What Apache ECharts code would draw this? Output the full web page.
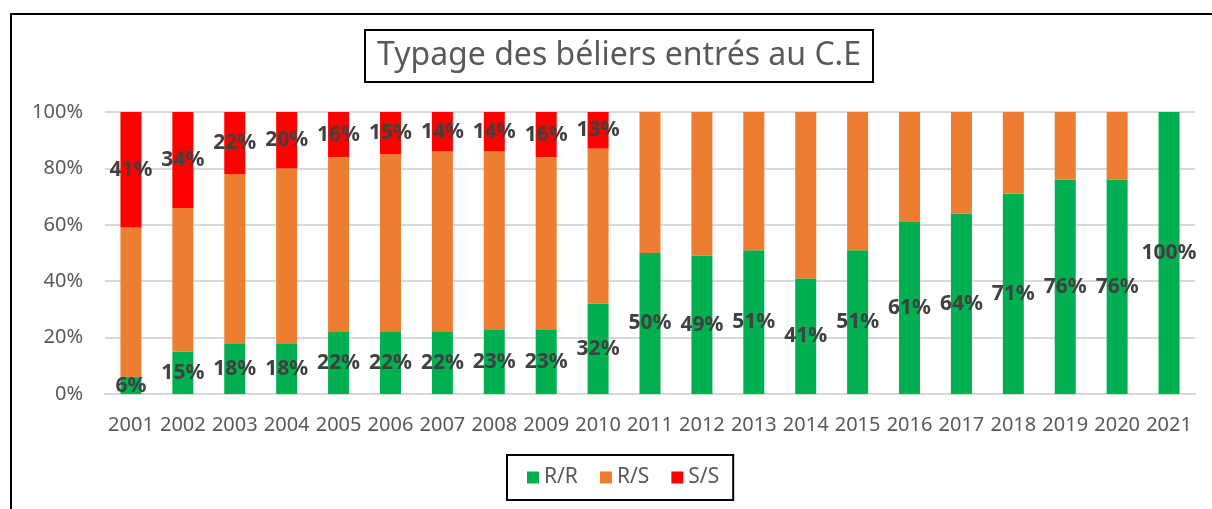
<!DOCTYPE html>
<html>
<head>
<meta charset="utf-8">
<script src="https://cdn.jsdelivr.net/npm/echarts@6/dist/echarts.min.js"></script>
<style>
  html, body { margin: 0; padding: 0; background: #fff; }
  #chart { width: 1212px; height: 509px; }
</style>
</head>
<body>
<div id="chart"></div>
<script>
  // années
  var years = ['2001', '2002', '2003', '2004', '2005', '2006', '2007', '2008', '2009', '2010', '2011',
    '2012', '2013', '2014', '2015', '2016', '2017', '2018', '2019', '2020', '2021']
  // pourcentages par génotype
  var rr = [6, 15, 18, 18, 22, 22, 22, 23, 23, 32, 50, 49, 51, 41, 51, 61, 64, 71, 76, 76, 100]
  var rs = [53, 51, 60, 62, 62, 63, 64, 63, 61, 55, 50, 51, 49, 59, 49, 39, 36, 29, 24, 24, 0]
  var ss = [41, 34, 22, 20, 16, 15, 14, 14, 16, 13, 0, 0, 0, 0, 0, 0, 0, 0, 0, 0, 0]
  var yTicks = [0, 20, 40, 60, 80, 100]

  var font = 'Noto Sans'
  var chart = echarts.init(document.getElementById('chart'))

  var labelStyle = {
    show: true,
    position: 'inside',
    color: '#404040',
    fontFamily: font,
    fontSize: 21,
    fontWeight: 'bold',
    formatter: function (p) {
      return p.value ? p.value + '%' : ''
    }
  }

  var option = {
    backgroundColor: '#fff',
    animation: false,
    title: {
      text: 'Typage des béliers entrés au C.E',
      left: 365,
      top: 30,
      padding: [10, 12, 10, 12],
      borderColor: '#000',
      borderWidth: 2,
      textStyle: {
        color: '#595959',
        fontFamily: font,
        fontSize: 32,
        fontWeight: 'normal'
      }
    },
    legend: {
      left: 507,
      top: 455,
      padding: [12, 14, 12, 20],
      borderColor: '#000',
      borderWidth: 2,
      itemWidth: 12,
      itemHeight: 12,
      itemGap: 22,
      icon: 'rect',
      textStyle: {
        color: '#595959',
        fontFamily: font,
        fontSize: 21
      },
      data: ['R/R', 'R/S', 'S/S']
    },
    graphic: [{
      type: 'rect',
      shape: { x: 11, y: 14, width: 1400, height: 700 },
      style: { fill: 'none', stroke: '#000', lineWidth: 2 },
      silent: true
    }],
    grid: {
      left: 105,
      right: 17,
      top: 112,
      bottom: 115
    },
    xAxis: {
      type: 'category',
      data: years,
      axisLine: { lineStyle: { color: '#d9d9d9', width: 2 } },
      axisTick: { show: false },
      axisLabel: {
        interval: 0,
        color: '#595959',
        fontFamily: font,
        fontSize: 20,
        margin: 21
      }
    },
    yAxis: {
      type: 'value',
      min: yTicks[0],
      max: yTicks[yTicks.length - 1],
      interval: 20,
      axisLine: { show: false },
      axisTick: { show: false },
      splitLine: { lineStyle: { color: '#d9d9d9', width: 2 } },
      axisLabel: {
        color: '#595959',
        fontFamily: font,
        fontSize: 20,
        margin: 22,
        formatter: '{value}%'
      }
    },
    series: [{
      name: 'R/R',
      type: 'bar',
      stack: 'total',
      barWidth: 21,
      itemStyle: { color: '#00b050' },
      label: labelStyle,
      data: rr
    }, {
      name: 'R/S',
      type: 'bar',
      stack: 'total',
      barWidth: 21,
      itemStyle: { color: '#ed7d31' },
      data: rs
    }, {
      name: 'S/S',
      type: 'bar',
      stack: 'total',
      barWidth: 21,
      itemStyle: { color: '#ff0000' },
      label: labelStyle,
      data: ss
    }]
  }

  chart.setOption(option)
</script>
</body>
</html>
